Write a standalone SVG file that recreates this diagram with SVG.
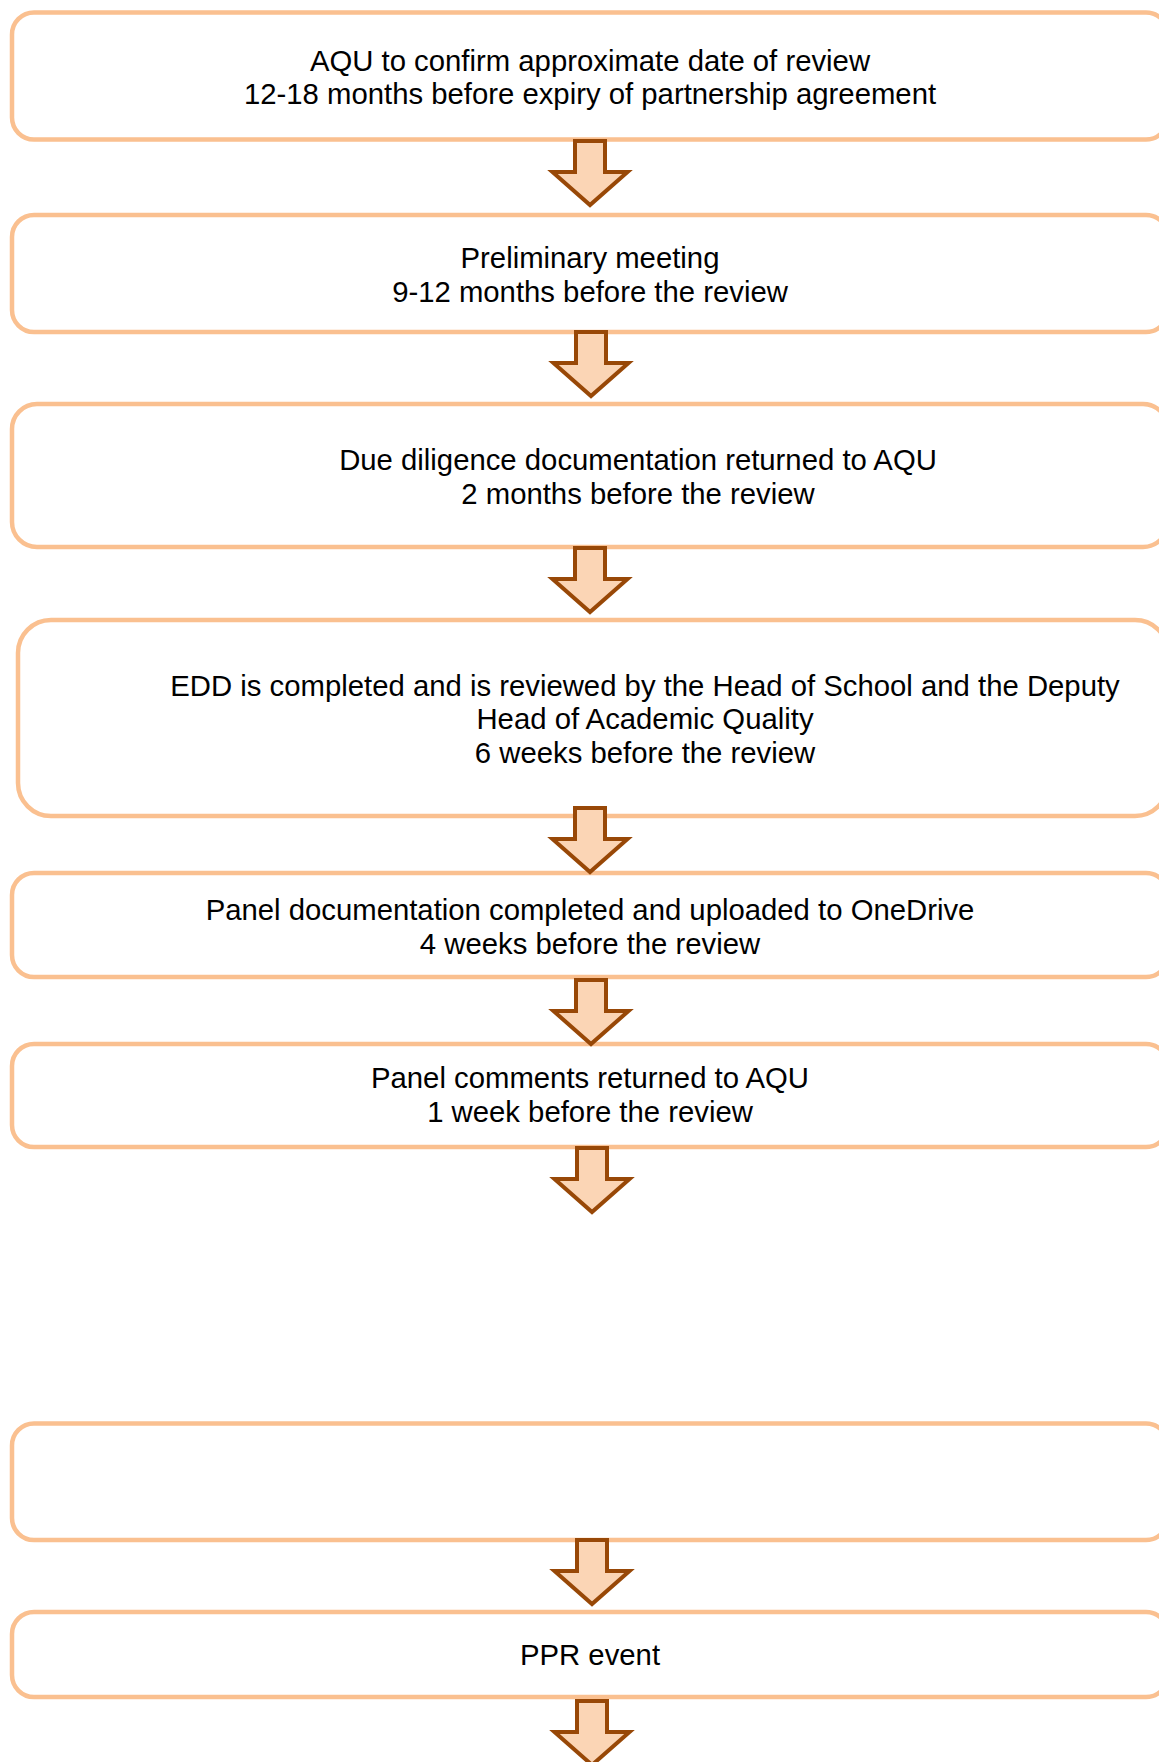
<svg xmlns="http://www.w3.org/2000/svg" xmlns:xlink="http://www.w3.org/1999/xlink" width="1159" height="1762" viewBox="0 0 1159 1762">
<style>
.box{fill:#ffffff;stroke:#FAC090;stroke-width:4.5}
.arr{fill:#FBD5B5;stroke:#984807;stroke-width:4;stroke-linejoin:miter}
.t{font-family:"Liberation Sans",Arial,sans-serif;font-size:29.3px;fill:#000000;text-anchor:middle}
</style>
<defs>
<polygon id="arrow" points="-15,0 15,0 15,31 37.5,31 0,64 -37.5,31 -15,31"/>
</defs>
<rect width="1159" height="1762" fill="#ffffff"/>
<g id="n1">
<rect class="box" x="12" y="12.5" width="1156" height="127" rx="22"/>
<text class="t" x="590" y="70.5">AQU to confirm approximate date of review</text>
<text class="t" x="590" y="104">12-18 months before expiry of partnership agreement</text>
</g>
<g id="n2">
<rect class="box" x="12" y="215" width="1156" height="117" rx="22"/>
<text class="t" x="590" y="268">Preliminary meeting</text>
<text class="t" x="590" y="301.5">9-12 months before the review</text>
</g>
<g id="n3">
<rect class="box" x="12" y="404" width="1156" height="143" rx="25"/>
<text class="t" x="638" y="470">Due diligence documentation returned to AQU</text>
<text class="t" x="638" y="504">2 months before the review</text>
</g>
<g id="n4">
<rect class="box" x="18" y="620" width="1150" height="196" rx="33"/>
<text class="t" x="645" y="695.5">EDD is completed and is reviewed by the Head of School and the Deputy</text>
<text class="t" x="645" y="729">Head of Academic Quality</text>
<text class="t" x="645" y="762.5">6 weeks before the review</text>
</g>
<g id="n5">
<rect class="box" x="12" y="873" width="1156" height="104" rx="22"/>
<text class="t" x="590" y="920">Panel documentation completed and uploaded to OneDrive</text>
<text class="t" x="590" y="953.5">4 weeks before the review</text>
</g>
<g id="n6">
<rect class="box" x="12" y="1044" width="1156" height="103" rx="22"/>
<text class="t" x="590" y="1088">Panel comments returned to AQU</text>
<text class="t" x="590" y="1122">1 week before the review</text>
</g>
<g id="n7">
<rect class="box" x="12" y="1423.5" width="1156" height="116.5" rx="22"/>
</g>
<g id="n8">
<rect class="box" x="12" y="1612" width="1156" height="85" rx="22"/>
<text class="t" x="590" y="1665">PPR event</text>
</g>
<g id="connectors" class="arr">
<use xlink:href="#arrow" href="#arrow" x="590" y="141"/>
<use xlink:href="#arrow" href="#arrow" x="591" y="332"/>
<use xlink:href="#arrow" href="#arrow" x="590" y="548"/>
<use xlink:href="#arrow" href="#arrow" x="590" y="808"/>
<use xlink:href="#arrow" href="#arrow" x="591" y="980"/>
<use xlink:href="#arrow" href="#arrow" x="592" y="1148"/>
<use xlink:href="#arrow" href="#arrow" x="592" y="1540"/>
<use xlink:href="#arrow" href="#arrow" x="592" y="1701"/>
</g>
</svg>
